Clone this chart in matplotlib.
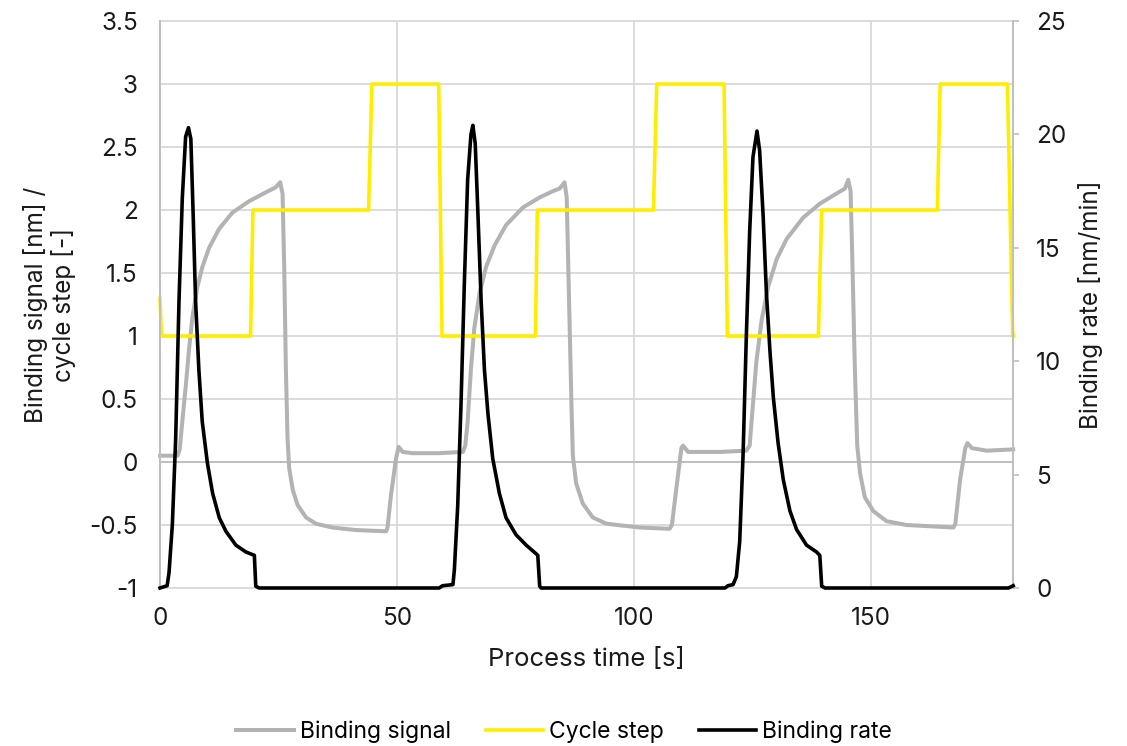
import matplotlib
matplotlib.use("Agg")
import matplotlib.pyplot as plt

plt.rcParams['font.family'] = ['Inter', 'DejaVu Sans']

# binding signal [nm] vs process time [s]
signal_t = [0, 3.7, 4.15, 4.72, 5.42, 6.13, 6.83, 7.89, 8.94, 10.35,
            12.46, 15.28, 18.8, 22.3, 24.4, 25.35, 25.85, 26.2, 26.55, 26.9,
            27.25, 28.0, 29.0, 30.8, 32.9, 36.4, 41.3, 47.7, 48.0, 48.7,
            49.8, 50.35, 51.2, 53.3, 58.9,
            63.9, 64.4, 64.9, 65.6, 66.3, 67.4, 68.8, 70.6, 73.0, 76.55,
            80.1, 82.9, 84.3, 85.35, 85.8, 86.3, 86.8, 87.1, 87.8, 89.2,
            91.3, 94.2, 101.2, 107.5, 108.0, 108.9, 110.0, 110.35, 111.4, 115.3,
            118.1, 123.7, 124.4, 125.1, 125.8, 126.9, 128.3, 130.1, 132.2, 135.7,
            139.2, 142.7, 144.5, 145.2, 145.7, 146.1, 146.6, 147.1, 147.7, 148.7,
            150.5, 153.3, 157.5, 167.4, 167.8, 168.8, 169.9, 170.35, 171.3, 174.4,
            180.0]
signal = [0.05, 0.05, 0.10, 0.33, 0.60, 0.90, 1.15, 1.39, 1.55, 1.70,
          1.85, 1.98, 2.07, 2.14, 2.18, 2.22, 2.13, 1.55, 0.74, 0.19,
          -0.05, -0.22, -0.34, -0.44, -0.49, -0.52, -0.54, -0.55, -0.52, -0.27,
          0.03, 0.12, 0.08, 0.07, 0.07,
          0.08, 0.13, 0.32, 0.74, 1.06, 1.34, 1.55, 1.72, 1.88, 2.02,
          2.10, 2.15, 2.17, 2.22, 2.10, 1.28, 0.46, 0.05, -0.17, -0.33,
          -0.44, -0.49, -0.52, -0.53, -0.50, -0.22, 0.11, 0.13, 0.08, 0.08,
          0.08, 0.09, 0.13, 0.46, 0.79, 1.12, 1.39, 1.61, 1.77, 1.94,
          2.05, 2.13, 2.17, 2.24, 2.15, 1.55, 0.74, 0.13, -0.09, -0.28,
          -0.39, -0.47, -0.50, -0.52, -0.49, -0.14, 0.11, 0.15, 0.11, 0.09,
          0.10]

# cycle step [-]
step_t = [0, 0.3, 19.1, 19.6, 44.0, 44.7, 58.8, 59.5, 79.2, 79.6,
          104.1, 104.8, 119.0, 119.7, 138.9, 139.6, 164.0, 164.6, 178.8, 179.9, 180]
step = [1.3, 1, 1, 2, 2, 3, 3, 1, 1, 2,
        2, 3, 3, 1, 1, 2, 2, 3, 3, 1, 1]

# binding rate [nm/min]
rate_t = [0, 1.5, 1.9, 2.6, 3.3, 4.0, 4.7, 5.4, 6.0, 6.5, 7.0, 7.5, 8.2, 8.9,
          10.0, 11.1, 12.5, 13.9, 16.0, 18.1, 19.9, 20.2, 20.9,
          58.9, 59.6, 61.8, 62.1, 62.8, 63.5, 64.2, 64.9, 65.6, 66.0, 66.5,
          67.0, 67.75, 68.45, 69.2, 70.2, 71.6, 73.0, 75.1, 77.25, 79.4,
          79.7, 80.1, 80.4,
          119.2, 119.8, 120.9, 121.6, 122.3, 123.0, 123.7, 124.4, 125.1, 125.95,
          126.5, 127.25, 127.95, 128.7, 129.4, 130.4, 131.5, 132.9, 134.3, 136.4,
          138.5, 139.2, 139.6, 140.3, 179.0, 180.0]
rate = [0, 0.1, 0.68, 2.8, 6.6, 12.65, 17.2, 19.9, 20.3, 19.8, 16.4, 12.65, 9.6, 7.35,
        5.5, 4.17, 3.1, 2.5, 1.89, 1.59, 1.44, 0.08, 0,
        0, 0.1, 0.15, 0.8, 3.6, 8.1, 13.4, 18.0, 20.0, 20.4, 19.6,
        16.9, 12.65, 9.6, 7.65, 5.7, 4.17, 3.1, 2.35, 1.89, 1.5,
        1.44, 0.08, 0,
        0, 0.1, 0.15, 0.5, 2.05, 5.8, 11.1, 15.7, 19.0, 20.15,
        19.3, 16.4, 12.95, 10.4, 8.4, 6.4, 4.77, 3.4, 2.58, 1.89,
        1.59, 1.44, 0.08, 0, 0, 0.1]

grid_c = '#d9d9d9'
axis_c = '#bfbfbf'
txt_c = '#1a1a1a'
fs = 17.5

fig = plt.figure(figsize=(11.27, 7.46), dpi=100)
ax = fig.add_axes([0.142, 0.2118, 0.757, 0.760])
ax2 = ax.twinx()

l1, = ax.plot(signal_t, signal, color='#b3b3b3', lw=2.9, clip_on=False, zorder=3)
l2, = ax.plot(step_t, step, color='#ffed00', lw=2.6, clip_on=False, zorder=4)
l3, = ax2.plot(rate_t, rate, color='black', lw=2.6, clip_on=False, zorder=5)

ax.set_xlim(0, 180)
ax.set_ylim(-1, 3.5)
ax2.set_ylim(0, 25)
ax.set_xticks([0, 50, 100, 150])
ax.set_yticks([-1, -0.5, 0, 0.5, 1, 1.5, 2, 2.5, 3, 3.5])
ax.set_yticklabels(['-1', '-0.5', '0', '0.5', '1', '1.5', '2', '2.5', '3', '3.5'])
ax2.set_yticks([0, 5, 10, 15, 20, 25])

ax.grid(True, color=grid_c, lw=1.3, zorder=0)
ax.set_axisbelow(True)
ax.axhline(0, color=axis_c, lw=1.4, zorder=1)

for s in ['top', 'bottom']:
    ax.spines[s].set_color(grid_c)
    ax.spines[s].set_linewidth(1.3)
    ax2.spines[s].set_visible(False)
for s in ['left', 'right']:
    ax.spines[s].set_color(axis_c)
    ax.spines[s].set_linewidth(1.4)
    ax2.spines[s].set_color(axis_c)
    ax2.spines[s].set_linewidth(1.4)

ax.tick_params(axis='x', length=0, pad=14, labelsize=fs, labelcolor=txt_c)
ax.tick_params(axis='y', length=0, pad=16, labelsize=fs, labelcolor=txt_c)
ax2.tick_params(axis='y', length=4.5, width=1.2, color=axis_c, pad=12,
                labelsize=fs, labelcolor=txt_c)

ax.set_xlabel('Process time [s]', fontsize=18.5, color=txt_c)
ax.set_ylabel('Binding signal [nm] /\ncycle step [-]', fontsize=fs,
              color=txt_c, linespacing=1.15)
ax2.set_ylabel('Binding rate [nm/min]', fontsize=fs, color=txt_c)
ax.xaxis.set_label_coords(0.5, -0.106)
ax.yaxis.set_label_coords(-0.098, 0.5)
ax2.yaxis.set_label_coords(1.076, 0.5)

fig.legend([l1, l2, l3], ['Binding signal', 'Cycle step', 'Binding rate'],
           loc='center', bbox_to_anchor=(0.5005, 0.019), ncol=3, frameon=False,
           fontsize=16.5, handlelength=2.5, handletextpad=0.26, columnspacing=1.53)

fig.savefig('out.png', dpi=100)
